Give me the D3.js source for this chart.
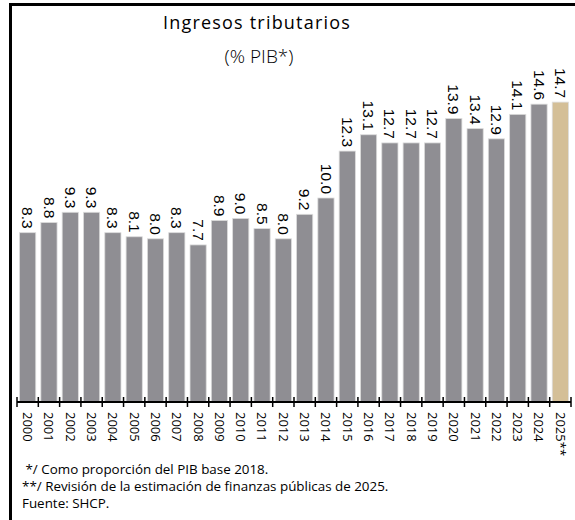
<!DOCTYPE html>
<html>
<head>
<meta charset="utf-8">
<script src="https://cdn.jsdelivr.net/npm/d3@7"></script>
<style>
  body { margin: 0; background: #fff; }
</style>
</head>
<body>
<div id="chart"></div>
<script>
const years = ['2000', '2001', '2002', '2003', '2004', '2005', '2006', '2007', '2008', '2009',
  '2010', '2011', '2012', '2013', '2014', '2015', '2016', '2017', '2018', '2019',
  '2020', '2021', '2022', '2023', '2024', '2025**'];
const values = [8.3, 8.8, 9.3, 9.3, 8.3, 8.1, 8.0, 8.3, 7.7, 8.9,
  9.0, 8.5, 8.0, 9.2, 10.0, 12.3, 13.1, 12.7, 12.7, 12.7,
  13.9, 13.4, 12.9, 14.1, 14.6, 14.7];
const notes = [
  ' */ Como proporción del PIB base 2018.',
  '**/ Revisión de la estimación de finanzas públicas de 2025.',
  'Fuente: SHCP.'
];

const width = 575, height = 520;
const svg = d3.select('#chart')
  .append('svg')
    .attr('width', width)
    .attr('height', height);

// marco
svg.append('path')
  .attr('d', 'M10.5,520 V4.5 H575')
  .attr('fill', 'none')
  .attr('stroke', '#000')
  .attr('stroke-width', 3);

const x = d3.scaleBand()
  .domain(years)
  .range([17, 571])
  .paddingInner(0.24)
  .paddingOuter(0.12);

const y = d3.scaleLinear()
  .domain([0, 15])
  .range([402, 402 - 15 * 20.4]);

svg.append('g')
  .selectAll('rect')
  .data(values)
  .enter()
  .append('rect')
    .attr('x', (d, i) => x(years[i]))
    .attr('y', d => y(d))
    .attr('width', x.bandwidth())
    .attr('height', d => y(0) - y(d))
    .attr('fill', (d, i) => i === years.length - 1 ? '#d4bf97' : '#8f8e93')
    .attr('stroke', '#dcdcdc')
    .attr('stroke-width', 0.8);

svg.append('g')
  .selectAll('text')
  .data(values)
  .enter()
  .append('text')
    .attr('transform', (d, i) => 'translate(' + (x(years[i]) + x.bandwidth() / 2) + ',' + (y(d) - 4) + ') rotate(90)')
    .attr('text-anchor', 'end')
    .attr('dy', '0.35em')
    .style('font-family', '"Liberation Sans", Arial, sans-serif')
    .style('font-size', '15.5px')
    .style('fill', '#000')
    .text(d => d.toFixed(1));

// eje
const axis = svg.append('g')
  .attr('transform', 'translate(0,402)');
axis.append('line')
  .attr('x1', 17).attr('x2', 571)
  .attr('stroke', '#000').attr('stroke-width', 2);
const step = x.step();
const tickPos = d3.range(years.length + 1).map(i => 17 + i * step);
axis.selectAll('line.tick')
  .data(tickPos)
  .enter()
  .append('line')
    .attr('class', 'tick')
    .attr('x1', d => d).attr('x2', d => d)
    .attr('y1', -5).attr('y2', 5)
    .attr('stroke', '#000').attr('stroke-width', 1.5);
axis.selectAll('text')
  .data(years)
  .enter()
  .append('text')
    .attr('transform', d => 'translate(' + (x(d) + x.bandwidth() / 2) + ',10) rotate(90)')
    .attr('dy', '0.35em')
    .style('font-family', '"Open Sans", "Noto Sans", sans-serif')
    .style('font-size', '13px')
    .style('fill', '#000')
    .text(d => d);

// titulo
svg.append('text')
  .attr('x', 257).attr('y', 29)
  .attr('text-anchor', 'middle')
  .style('font-family', '"Open Sans", sans-serif')
  .style('font-size', '18px')
  .style('letter-spacing', '1.2px')
  .text('Ingresos tributarios');
svg.append('text')
  .attr('x', 259).attr('y', 63)
  .attr('text-anchor', 'middle')
  .style('font-family', '"Open Sans", sans-serif')
  .style('font-size', '19px')
  .style('font-weight', 300)
  .style('fill', '#000')
  .text('(% PIB*)');

svg.append('g')
  .selectAll('text')
  .data(notes)
  .enter()
  .append('text')
    .attr('x', 22)
    .attr('y', (d, i) => 474 + i * 17)
    .attr('xml:space', 'preserve')
    .style('white-space', 'pre')
    .style('font-family', '"Open Sans", sans-serif')
    .style('font-size', '13.4px')
    .text(d => d);
</script>
</body>
</html>
